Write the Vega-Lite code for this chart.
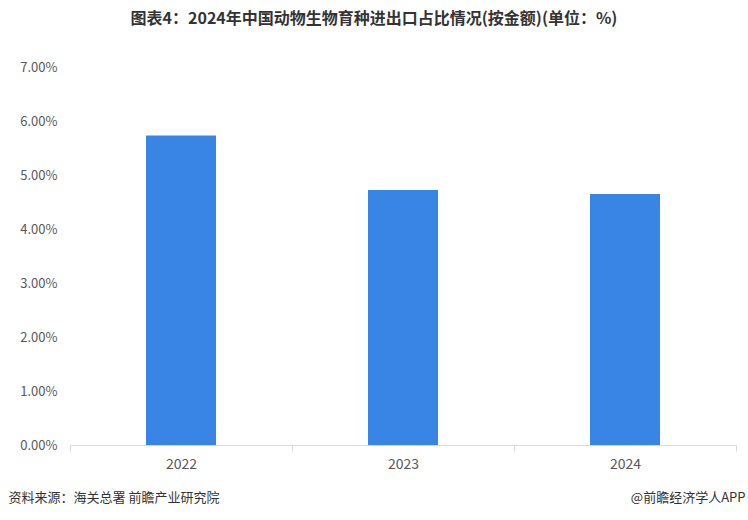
{
  "$schema": "https://vega.github.io/schema/vega-lite/v6.json",
  "autosize": "none",
  "width": 666,
  "height": 378,
  "padding": {"left": 70, "top": 67, "right": 12, "bottom": 75},
  "background": "white",
  "title": {
    "text": "图表4：2024年中国动物生物育种进出口占比情况(按金额)(单位：%)",
    "anchor": "middle",
    "frame": "group",
    "dx": -29,
    "offset": 34,
    "font": "Noto Sans CJK SC",
    "fontSize": 16,
    "fontWeight": "bold",
    "color": "#333333"
  },
  "data": {
    "values": [
      {"year": "2022", "value": 5.73},
      {"year": "2023", "value": 4.72},
      {"year": "2024", "value": 4.65}
    ]
  },
  "mark": {"type": "bar", "color": "#3885E6", "width": 70},
  "encoding": {
    "x": {
      "field": "year",
      "type": "nominal",
      "scale": {"paddingInner": 0, "paddingOuter": 0},
      "axis": {
        "title": "资料来源：海关总署 前瞻产业研究院",
        "titleX": -62,
        "titleY": 52,
        "titleAnchor": "start",
        "titleAlign": "left",
        "titleBaseline": "middle",
        "titleFont": "Noto Sans CJK SC",
        "titleFontSize": 13,
        "titleFontWeight": "normal",
        "titleColor": "#333333",
        "labelAngle": 0,
        "labelFont": "Noto Sans CJK SC",
        "labelFontSize": 14,
        "labelColor": "#595959",
        "labelPadding": 6,
        "domainColor": "#d9d9d9",
        "tickColor": "#d9d9d9",
        "tickBand": "extent",
        "tickSize": 6,
        "grid": false
      }
    },
    "y": {
      "field": "value",
      "type": "quantitative",
      "scale": {"domain": [0, 7]},
      "axis": {
        "values": [0, 1, 2, 3, 4, 5, 6, 7],
        "labelExpr": "format(datum.value, '.2f') + '%'",
        "title": "@前瞻经济学人APP",
        "titleAngle": 0,
        "titleX": 675,
        "titleY": 430,
        "titleAlign": "right",
        "titleBaseline": "middle",
        "titleFont": "Noto Sans CJK SC",
        "titleFontSize": 13,
        "titleFontWeight": "normal",
        "titleColor": "#333333",
        "labelFont": "Noto Sans CJK SC",
        "labelFontSize": 13,
        "labelColor": "#595959",
        "labelPadding": 13,
        "ticks": false,
        "domain": false,
        "grid": false
      }
    }
  },
  "config": {"view": {"stroke": null}}
}
